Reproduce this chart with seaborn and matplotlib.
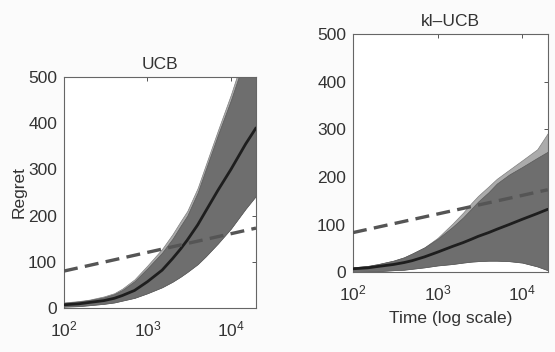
import matplotlib
matplotlib.use("Agg")
import matplotlib.pyplot as plt
import seaborn as sns

# time grid (log scale) shared by both panels
time_steps = [100, 150, 200, 300, 400, 500, 700, 1000, 1500, 2000,
              2500, 3000, 4000, 5000, 7000, 10000, 15000, 20000]

# UCB panel
ucb_mean = [7, 9, 12, 16, 21, 27, 38, 57, 82, 107,
            128, 147, 180, 210, 255, 300, 355, 390]
ucb_upper = [11, 14, 17, 23, 30, 39, 58, 86, 120, 150,
             178, 200, 250, 300, 375, 450, 545, 620]
ucb_upper_light = [12, 15, 18, 25, 32, 42, 62, 92, 128, 160,
                   188, 210, 260, 310, 385, 462, 560, 640]
ucb_lower = [3, 4, 6, 9, 12, 16, 22, 32, 45, 57,
             68, 78, 95, 112, 140, 172, 215, 243]

# kl-UCB panel
klucb_mean = [7, 9, 12, 16, 20, 24, 32, 42, 54, 62,
              69, 75, 83, 90, 100, 111, 123, 132]
klucb_upper = [10, 13, 17, 24, 31, 39, 52, 70, 95, 115,
               133, 148, 168, 186, 205, 221, 240, 253]
klucb_upper_light = [10, 13, 17, 24, 31, 39, 52, 72, 102, 125,
                     145, 160, 180, 196, 215, 235, 258, 292]
klucb_lower = [0, 1, 2, 4, 5, 7, 10, 14, 17, 20,
               22, 23, 24, 24, 23, 20, 12, 4]

# asymptotic lower bound (dashed), straight in log-time
bound_t = [100, 20000]
ucb_bound = [80, 173]
klucb_bound = [83, 173]

x_ticks = [1e2, 1e3, 1e4]
x_ticklabels = [r"$10^{2}$", r"$10^{3}$", r"$10^{4}$"]
y_ticks = [0, 100, 200, 300, 400, 500]

sns.set_theme(style="white")
plt.rcParams["font.family"] = ["Liberation Sans", "DejaVu Sans"]
plt.rcParams["mathtext.fontset"] = "custom"
plt.rcParams["mathtext.rm"] = "Liberation Sans"
plt.rcParams["mathtext.it"] = "Liberation Sans:italic"
plt.rcParams["mathtext.bf"] = "Liberation Sans:bold"

text_col = "#333333"
dark_band = "#6e6e6e"
light_band = "#ababab"
fs = 12.5

fig = plt.figure(figsize=(5.55, 3.52), dpi=100)
fig.patch.set_facecolor("#fbfbfb")
ax1 = fig.add_axes([0.1153, 0.125, 0.346, 0.656])
ax2 = fig.add_axes([0.636, 0.227, 0.351, 0.676])

panels = [
    (ax1, "UCB", ucb_mean, ucb_upper, ucb_upper_light, ucb_lower, ucb_bound),
    (ax2, "kl\u2013UCB", klucb_mean, klucb_upper, klucb_upper_light, klucb_lower, klucb_bound),
]

for ax, title, mean, upper, upper_light, lower, bound in panels:
    ax.set_facecolor("white")
    ax.fill_between(time_steps, lower, upper_light, color=light_band,
                    edgecolor="#808080", linewidth=0.5, zorder=1)
    ax.fill_between(time_steps, lower, upper, color=dark_band,
                    edgecolor="#5a5a5a", linewidth=0.5, zorder=2)
    sns.lineplot(x=time_steps, y=mean, ax=ax, color="#1e1e1e", linewidth=2.0, zorder=3)
    sns.lineplot(x=bound_t, y=bound, ax=ax, color="#555555", linewidth=2.4,
                 dashes=False, zorder=4).lines[-1].set_dashes([4.2, 2.2])

    ax.set_xscale("log")
    ax.set_xlim(100, 20000)
    ax.set_ylim(0, 500)
    ax.set_xticks(x_ticks)
    ax.set_xticklabels(x_ticklabels)
    ax.minorticks_off()
    ax.set_yticks(y_ticks)
    ax.tick_params(direction="in", length=3, width=0.7, top=True, right=True,
                   colors="#555555", labelcolor=text_col, labelsize=fs, pad=5)
    ax.tick_params(axis="x", pad=8)
    for sp in ax.spines.values():
        sp.set_color("#666666")
        sp.set_linewidth(0.8)
    ax.set_title(title, fontsize=fs, color=text_col, pad=6)

ax1.set_ylabel("Regret", fontsize=fs, color=text_col, labelpad=1)
ax2.set_xlabel("Time (log scale)", fontsize=fs, color=text_col, labelpad=6)

fig.savefig("out.png", dpi=100, facecolor=fig.get_facecolor())
